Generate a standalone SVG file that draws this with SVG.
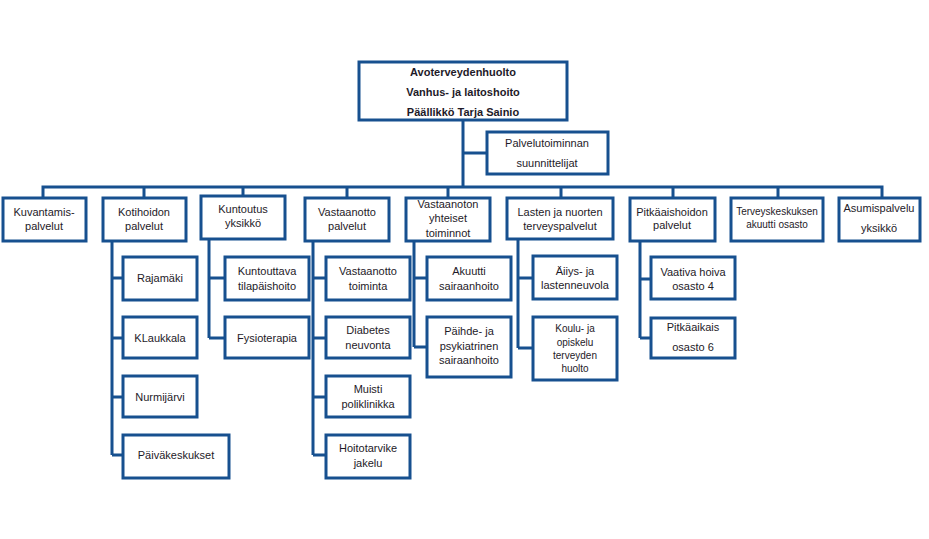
<svg xmlns="http://www.w3.org/2000/svg" width="929" height="539" viewBox="0 0 929 539">
<style>
.b{fill:#fff;stroke:#17508f;stroke-width:3}
.c{fill:none;stroke:#17508f;stroke-width:3}
text{font-family:"Liberation Sans",Arial,sans-serif;font-size:11px;fill:#1e1a28;text-anchor:middle}
.bd{font-weight:bold}
.s{font-size:10px}
</style>
<rect width="929" height="539" fill="#fff"/>
<g id="connectors">
<path class="c" d="M463 120V187M463 153H487"/>
<path class="c" d="M43 198V187H882V198M144 187V198M243 187V196M347 187V198M448 187V198M561 187V198M673 187V198M778 187V198"/>
<path class="c" d="M112 241V455M112 278H123M112 338H123M112 397H123M112 455H123"/>
<path class="c" d="M209 239V338M209 278H225M209 338H225"/>
<path class="c" d="M313 241V455M313 278H326M313 338H326M313 397H326M313 455H326"/>
<path class="c" d="M414 241V347M414 278H427M414 347H427"/>
<path class="c" d="M518 239V348M518 278H533M518 348H533"/>
<path class="c" d="M640 241V338M640 279H651M640 338H651"/>
</g>
<g id="top"><rect class="b" x="359" y="62" width="208" height="58"/>
<text class="bd" x="463" y="76">Avoterveydenhuolto</text>
<text class="bd" x="463" y="96">Vanhus- ja laitoshoito</text>
<text class="bd" x="463" y="116">Päällikkö  Tarja  Sainio</text></g>
<g id="suunnittelijat"><rect class="b" x="487" y="132" width="121" height="42"/>
<text x="547" y="147">Palvelutoiminnan</text><text x="547" y="167">suunnittelijat</text></g>
<g id="kuvantamis"><rect class="b" x="3" y="198" width="83" height="43"/>
<text x="44" y="216">Kuvantamis-</text><text x="44" y="230">palvelut</text></g>
<g id="kotihoidon"><rect class="b" x="103" y="198" width="83" height="43"/>
<text x="144" y="216">Kotihoidon</text><text x="144" y="230">palvelut</text></g>
<g id="kuntoutus"><rect class="b" x="201" y="196" width="84" height="43"/>
<text x="243" y="213">Kuntoutus</text><text x="243" y="227">yksikkö</text></g>
<g id="vastaanotto"><rect class="b" x="305" y="198" width="84" height="43"/>
<text x="347" y="216">Vastaanotto</text><text x="347" y="230">palvelut</text></g>
<g id="yhteiset"><rect class="b" x="406" y="198" width="84" height="43"/>
<text x="448" y="208">Vastaanoton</text><text x="448" y="222">yhteiset</text><text x="448" y="237">toiminnot</text></g>
<g id="lasten"><rect class="b" x="507" y="198" width="106" height="41"/>
<text x="560" y="216">Lasten ja nuorten</text><text x="560" y="230">terveyspalvelut</text></g>
<g id="pitkaaishoidon"><rect class="b" x="630" y="198" width="85" height="43"/>
<text x="672" y="216">Pitkäaishoidon</text><text x="672" y="229">palvelut</text></g>
<g id="terveyskeskus"><rect class="b" x="731" y="198" width="92" height="43"/>
<text class="s" x="777" y="215">Terveyskeskuksen</text><text class="s" x="777" y="228">akuutti osasto</text></g>
<g id="asumispalvelu"><rect class="b" x="839" y="198" width="81" height="43"/>
<text x="879" y="212">Asumispalvelu</text><text x="879" y="232">yksikkö</text></g>
<g id="rajamaki"><rect class="b" x="123" y="257" width="74" height="43"/><text x="160" y="282">Rajamäki</text></g>
<g id="klaukkala"><rect class="b" x="123" y="317" width="74" height="41"/><text x="160" y="342">KLaukkala</text></g>
<g id="nurmijarvi"><rect class="b" x="123" y="376" width="74" height="41"/><text x="160" y="401">Nurmijärvi</text></g>
<g id="paivakeskukset"><rect class="b" x="123" y="435" width="106" height="43"/><text x="176" y="459">Päiväkeskukset</text></g>
<g id="kuntouttava"><rect class="b" x="225" y="257" width="84" height="43"/>
<text x="267" y="275">Kuntouttava</text><text x="267" y="290">tilapäishoito</text></g>
<g id="fysioterapia"><rect class="b" x="225" y="317" width="84" height="41"/><text x="267" y="342">Fysioterapia</text></g>
<g id="vo-toiminta"><rect class="b" x="326" y="257" width="84" height="43"/>
<text x="368" y="275">Vastaanotto</text><text x="368" y="290">toiminta</text></g>
<g id="diabetes"><rect class="b" x="326" y="317" width="84" height="41"/>
<text x="368" y="334">Diabetes</text><text x="368" y="349">neuvonta</text></g>
<g id="muisti"><rect class="b" x="326" y="376" width="84" height="41"/>
<text x="368" y="393">Muisti</text><text x="368" y="408">poliklinikka</text></g>
<g id="hoitotarvike"><rect class="b" x="326" y="435" width="84" height="43"/>
<text x="368" y="452">Hoitotarvike</text><text x="368" y="467">jakelu</text></g>
<g id="akuutti"><rect class="b" x="427" y="257" width="84" height="43"/>
<text x="469" y="275">Akuutti</text><text x="469" y="290">sairaanhoito</text></g>
<g id="paihde"><rect class="b" x="427" y="317" width="84" height="60"/>
<text x="469" y="335">Päihde- ja</text><text x="469" y="350">psykiatrinen</text><text x="469" y="364">sairaanhoito</text></g>
<g id="aitiys"><rect class="b" x="533" y="256" width="84" height="43"/>
<text x="575" y="275">Äiiys- ja</text><text x="575" y="289">lastenneuvola</text></g>
<g id="koulu"><rect class="b" x="533" y="317" width="84" height="63"/>
<text class="s" x="575" y="332">Koulu- ja</text><text class="s" x="575" y="346">opiskelu</text><text class="s" x="575" y="359">terveyden</text><text class="s" x="575" y="372">huolto</text></g>
<g id="vaativa"><rect class="b" x="651" y="257" width="84" height="42"/>
<text x="693" y="276">Vaativa hoiva</text><text x="693" y="290">osasto 4</text></g>
<g id="pitkaaikais"><rect class="b" x="651" y="318" width="84" height="40"/>
<text x="693" y="331">Pitkäaikais</text><text x="693" y="351">osasto 6</text></g>
</svg>
